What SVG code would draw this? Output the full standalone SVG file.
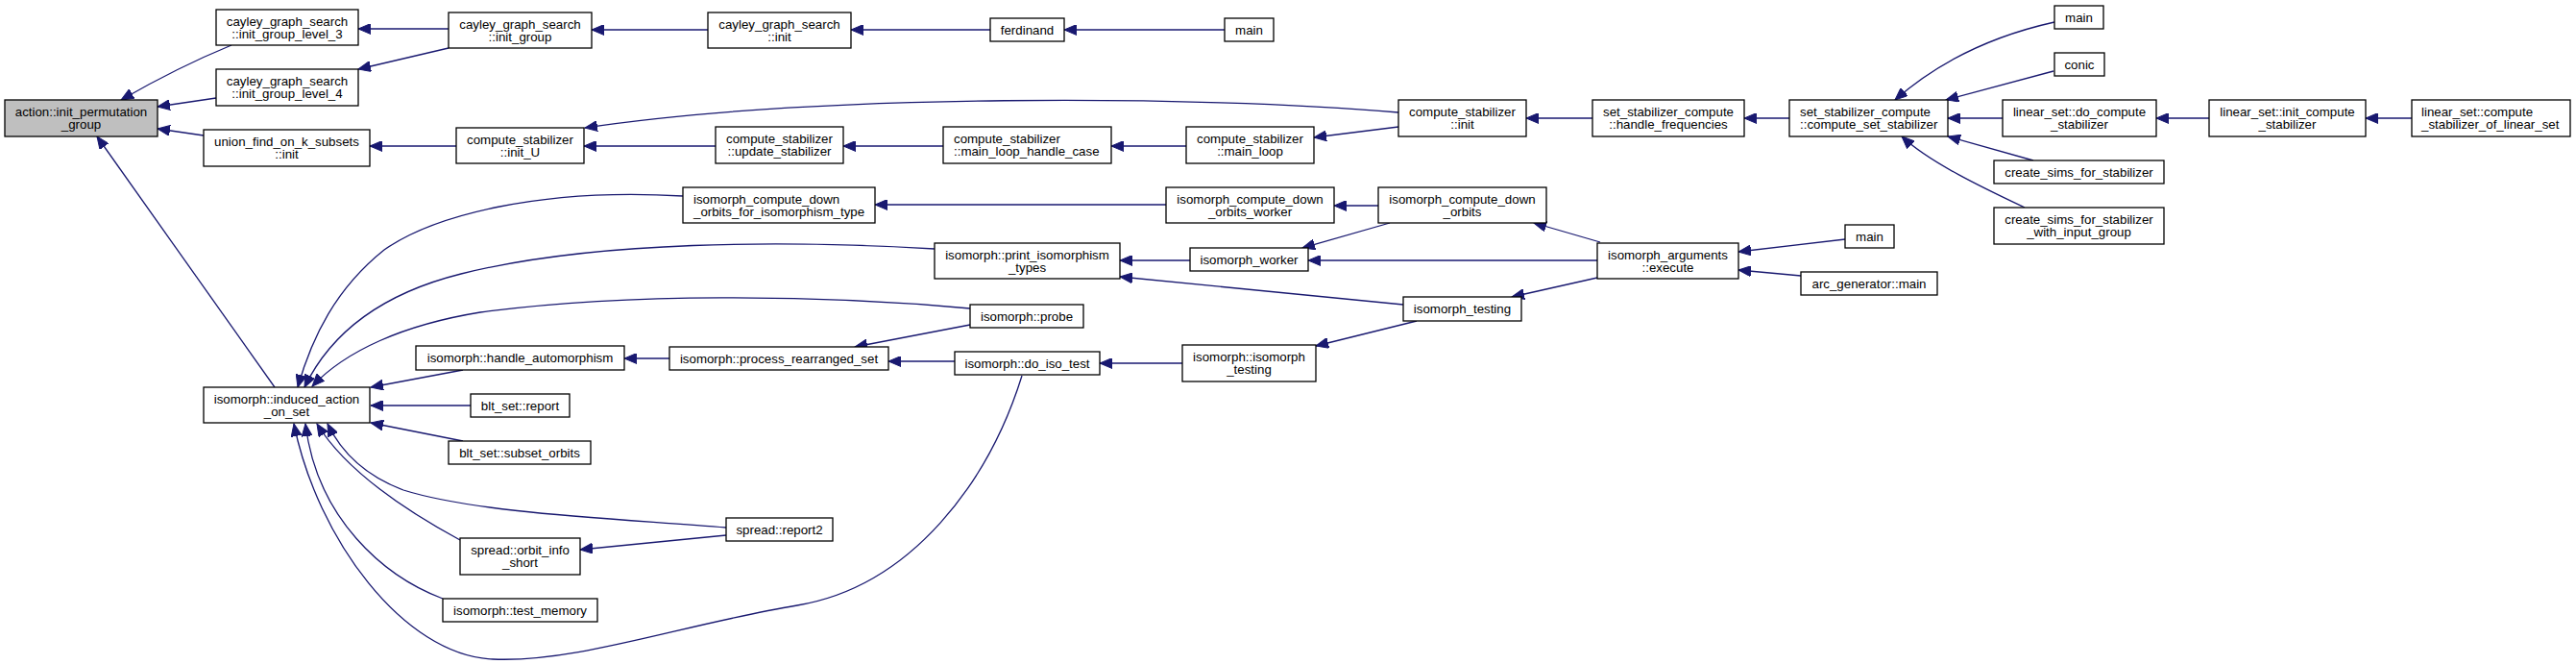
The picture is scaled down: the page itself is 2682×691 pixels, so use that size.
<svg xmlns="http://www.w3.org/2000/svg" width="2682" height="691" viewBox="0 0 2682 691">
<style>
rect{fill:#fff;stroke:#000;stroke-width:1.3}
rect.g{fill:#bfbfbf}
text{font-family:"Liberation Sans",Arial,Helvetica,sans-serif;font-size:13.3px;fill:#000;text-anchor:middle}
text.l{text-anchor:start}
#edges path{fill:none;stroke:#191970;stroke-width:1.3;marker-end:url(#a)}
</style>
<defs>
<marker id="a" markerUnits="userSpaceOnUse" markerWidth="14" markerHeight="11" viewBox="0 0 14 11" refX="13" refY="5.5" orient="auto"><path d="M0,0 L13,5.5 L0,11 z" fill="#191970" stroke="#191970" stroke-width="1"/></marker>
</defs>
<rect x="0" y="0" width="2682" height="691" style="fill:#fff;stroke:none"/>
<g id="edges">
<path d="M241,47 Q185,70 126,104"/>
<path d="M225,102 L164,111"/>
<path d="M212,141 L164,134"/>
<path d="M286,403 L101,142"/>
<path d="M467,30 L373,30"/>
<path d="M467,50 L373,72"/>
<path d="M737,31 L616,31"/>
<path d="M1031,31 L886,31"/>
<path d="M1275,31 L1108,31"/>
<path d="M475,152 L385,152"/>
<path d="M1456,117 C1250,99 850,97 609,133"/>
<path d="M745,152 L608,152"/>
<path d="M982,152 L878,152"/>
<path d="M1235,152 L1157,152"/>
<path d="M1456,132 L1368,143"/>
<path d="M1658,123 L1589,123"/>
<path d="M1863,123 L1816,123"/>
<path d="M2139,23 Q2040,45 1973,104"/>
<path d="M2138,74 L2026,104"/>
<path d="M2085,123 L2028,123"/>
<path d="M2117,167 L2028,142"/>
<path d="M2108,216 C2070,198 2010,170 1980,142"/>
<path d="M2300,123 L2245,123"/>
<path d="M2511,123 L2463,123"/>
<path d="M711,204 C560,195 450,225 400,260 C350,300 325,350 310,403"/>
<path d="M973,259 C820,250 620,250 480,285 C400,305 345,345 317,403"/>
<path d="M1010,321 C850,306 650,305 500,325 C420,338 360,365 325,402"/>
<path d="M482,385 L386,403"/>
<path d="M490,422 L386,422"/>
<path d="M482,459 L386,440"/>
<path d="M756,549 C650,540 500,535 420,510 C380,495 355,470 341,441"/>
<path d="M479,562 C420,530 360,490 330,441"/>
<path d="M461,623 C400,600 330,540 318,441"/>
<path d="M1064,391 C1030,500 950,610 830,630 C710,650 600,690 513,686 C420,682 330,560 306,441"/>
<path d="M756,557 L604,572"/>
<path d="M697,373 L650,373"/>
<path d="M1010,338 L890,361"/>
<path d="M994,376 L925,376"/>
<path d="M1231,378 L1145,378"/>
<path d="M1475,334 L1370,360"/>
<path d="M1461,317 L1166,288"/>
<path d="M1239,271 L1166,271"/>
<path d="M1214,213 L911,213"/>
<path d="M1435,214 L1389,214"/>
<path d="M1447,232 L1356,258"/>
<path d="M1666,252 L1597,232"/>
<path d="M1663,271 L1362,271"/>
<path d="M1663,289 L1574,309"/>
<path d="M1921,249 L1810,262"/>
<path d="M1875,287 L1810,281"/>
</g>
<g id="n_action"><rect class="g" x="5" y="104" width="159" height="38"/><text x="84.5" y="121">action::init_permutation</text><text x="84.5" y="134">_group</text></g>
<g id="n_level3"><rect x="225" y="10" width="148" height="37"/><text x="299" y="27">cayley_graph_search</text><text x="299" y="40">::init_group_level_3</text></g>
<g id="n_level4"><rect x="225" y="72" width="148" height="38"/><text x="299" y="89">cayley_graph_search</text><text x="299" y="102">::init_group_level_4</text></g>
<g id="n_union"><rect x="212" y="135" width="173" height="38"/><text x="298.5" y="152">union_find_on_k_subsets</text><text x="298.5" y="165">::init</text></g>
<g id="n_init_group"><rect x="467" y="13" width="149" height="37"/><text x="541.5" y="30">cayley_graph_search</text><text x="541.5" y="43">::init_group</text></g>
<g id="n_cayley_init"><rect x="737" y="13" width="149" height="37"/><text x="811.5" y="30">cayley_graph_search</text><text x="811.5" y="43">::init</text></g>
<g id="n_ferdinand"><rect x="1031" y="19" width="77" height="24"/><text x="1069.5" y="35.5">ferdinand</text></g>
<g id="n_main1"><rect x="1275" y="19" width="51" height="24"/><text x="1300.5" y="35.5">main</text></g>
<g id="n_init_U"><rect x="475" y="133" width="133" height="37"/><text x="541.5" y="150">compute_stabilizer</text><text x="541.5" y="163">::init_U</text></g>
<g id="n_update"><rect x="745" y="132" width="133" height="38"/><text x="811.5" y="149">compute_stabilizer</text><text x="811.5" y="162">::update_stabilizer</text></g>
<g id="n_mlhc"><rect x="982" y="132" width="175" height="38"/><text class="l" x="993" y="149">compute_stabilizer</text><text class="l" x="993" y="162">::main_loop_handle_case</text></g>
<g id="n_main_loop"><rect x="1235" y="132" width="133" height="38"/><text x="1301.5" y="149">compute_stabilizer</text><text x="1301.5" y="162">::main_loop</text></g>
<g id="n_cs_init"><rect x="1456" y="104" width="133" height="38"/><text x="1522.5" y="121">compute_stabilizer</text><text x="1522.5" y="134">::init</text></g>
<g id="n_hf"><rect x="1658" y="104" width="158" height="38"/><text x="1737" y="121">set_stabilizer_compute</text><text x="1737" y="134">::handle_frequencies</text></g>
<g id="n_css"><rect x="1863" y="104" width="165" height="38"/><text class="l" x="1874" y="121">set_stabilizer_compute</text><text class="l" x="1874" y="134">::compute_set_stabilizer</text></g>
<g id="n_main_tr"><rect x="2139" y="6" width="51" height="24"/><text x="2164.5" y="22.5">main</text></g>
<g id="n_conic"><rect x="2139" y="55" width="52" height="24"/><text x="2165" y="71.5">conic</text></g>
<g id="n_do_compute"><rect x="2085" y="104" width="160" height="38"/><text x="2165" y="121">linear_set::do_compute</text><text x="2165" y="134">_stabilizer</text></g>
<g id="n_init_compute"><rect x="2300" y="104" width="163" height="38"/><text x="2381.5" y="121">linear_set::init_compute</text><text x="2381.5" y="134">_stabilizer</text></g>
<g id="n_cs_linear"><rect x="2511" y="104" width="165" height="38"/><text class="l" x="2521" y="121">linear_set::compute</text><text class="l" x="2521" y="134">_stabilizer_of_linear_set</text></g>
<g id="n_create_sims"><rect x="2076" y="167" width="177" height="24"/><text x="2164.5" y="183.5">create_sims_for_stabilizer</text></g>
<g id="n_create_sims_input"><rect x="2076" y="216" width="177" height="38"/><text x="2164.5" y="233">create_sims_for_stabilizer</text><text x="2164.5" y="246">_with_input_group</text></g>
<g id="n_orbits_iso"><rect x="711" y="195" width="200" height="37"/><text class="l" x="722" y="212">isomorph_compute_down</text><text class="l" x="722" y="225">_orbits_for_isomorphism_type</text></g>
<g id="n_orbits_worker"><rect x="1214" y="195" width="175" height="37"/><text x="1301.5" y="212">isomorph_compute_down</text><text x="1301.5" y="225">_orbits_worker</text></g>
<g id="n_cdo"><rect x="1435" y="195" width="175" height="37"/><text x="1522.5" y="212">isomorph_compute_down</text><text x="1522.5" y="225">_orbits</text></g>
<g id="n_print_iso"><rect x="973" y="253" width="193" height="37"/><text x="1069.5" y="270">isomorph::print_isomorphism</text><text x="1069.5" y="283">_types</text></g>
<g id="n_iso_worker"><rect x="1239" y="258" width="123" height="24"/><text x="1300.5" y="274.5">isomorph_worker</text></g>
<g id="n_probe"><rect x="1010" y="317" width="118" height="24"/><text x="1069" y="333.5">isomorph::probe</text></g>
<g id="n_handle_auto"><rect x="433" y="360" width="217" height="25"/><text x="541.5" y="377">isomorph::handle_automorphism</text></g>
<g id="n_process"><rect x="697" y="361" width="228" height="24"/><text x="811" y="377.5">isomorph::process_rearranged_set</text></g>
<g id="n_do_iso"><rect x="994" y="366" width="151" height="24"/><text x="1069.5" y="382.5">isomorph::do_iso_test</text></g>
<g id="n_iiso"><rect x="1231" y="359" width="139" height="38"/><text x="1300.5" y="376">isomorph::isomorph</text><text x="1300.5" y="389">_testing</text></g>
<g id="n_iso_testing"><rect x="1461" y="309" width="123" height="25"/><text x="1522.5" y="326">isomorph_testing</text></g>
<g id="n_execute"><rect x="1663" y="253" width="147" height="37"/><text x="1736.5" y="270">isomorph_arguments</text><text x="1736.5" y="283">::execute</text></g>
<g id="n_main2"><rect x="1921" y="234" width="51" height="24"/><text x="1946.5" y="250.5">main</text></g>
<g id="n_arc"><rect x="1875" y="283" width="142" height="24"/><text x="1946" y="299.5">arc_generator::main</text></g>
<g id="n_induced"><rect x="212" y="403" width="173" height="37"/><text x="298.5" y="420">isomorph::induced_action</text><text x="298.5" y="433">_on_set</text></g>
<g id="n_blt_report"><rect x="490" y="410" width="103" height="24"/><text x="541.5" y="426.5">blt_set::report</text></g>
<g id="n_subset"><rect x="467" y="459" width="148" height="24"/><text x="541" y="475.5">blt_set::subset_orbits</text></g>
<g id="n_orbit_info"><rect x="479" y="560" width="125" height="38"/><text x="541.5" y="577">spread::orbit_info</text><text x="541.5" y="590">_short</text></g>
<g id="n_test_memory"><rect x="461" y="623" width="161" height="24"/><text x="541.5" y="639.5">isomorph::test_memory</text></g>
<g id="n_report2"><rect x="756" y="539" width="111" height="24"/><text x="811.5" y="555.5">spread::report2</text></g>
</svg>
